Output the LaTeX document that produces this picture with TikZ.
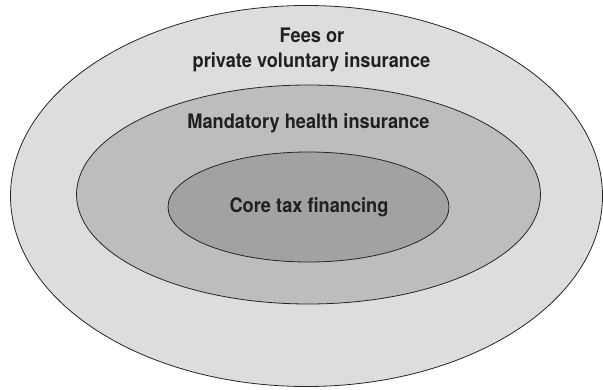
\documentclass[tikz,border=0pt]{standalone}
\usepackage{fontspec}
\newfontfamily\lblfont{texgyreheros-bold.otf}
\definecolor{ringA}{RGB}{220,221,223}
\definecolor{ringB}{RGB}{188,189,191}
\definecolor{ringC}{RGB}{161,162,164}
\definecolor{txt}{RGB}{35,31,32}
\begin{document}
\begin{tikzpicture}[x=1pt,y=1pt,
  ring/.style={draw=black!85, line width=0.8pt},
  lbl/.style={text=txt, font=\lblfont\fontsize{20}{25}\selectfont, inner sep=0pt, anchor=base, xscale=0.91}]
\useasboundingbox (0,0) rectangle (603,389);
\coordinate (co) at (306.5,193);
\coordinate (cm) at (308.5,194.5);
\coordinate (ci) at (308.5,182);
\draw[ring, fill=ringA] (co) ellipse [x radius=296, y radius=190.5];
\draw[ring, fill=ringB] (cm) ellipse [x radius=232, y radius=109.5];
\draw[ring, fill=ringC] (ci) ellipse [x radius=140.5, y radius=55];
\node[lbl] (fees) at (312,346) {Fees or};
\node[lbl] (priv) at (311.5,321) {private voluntary insurance};
\node[lbl] (mand) at (308.5,260) {Mandatory health insurance};
\node[lbl] (core) at (309,176) {Core tax financing};
\end{tikzpicture}
\end{document}
